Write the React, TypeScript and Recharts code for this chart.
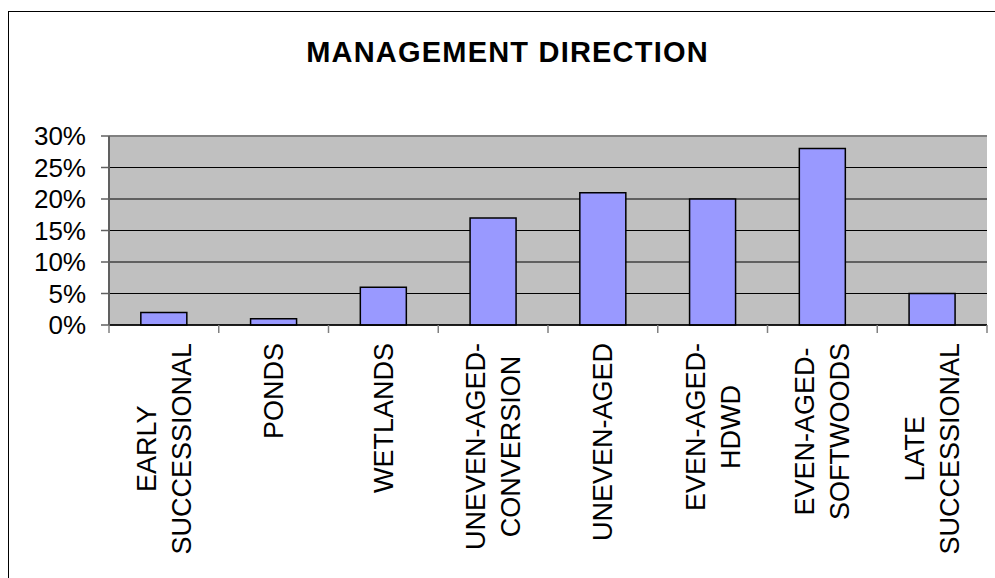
import React from "react";
import {
  BarChart,
  Bar,
  XAxis,
  YAxis,
  CartesianGrid,
  ReferenceLine,
} from "recharts";

const categories = [
  "EARLY\nSUCCESSIONAL",
  "PONDS",
  "WETLANDS",
  "UNEVEN-AGED-\nCONVERSION",
  "UNEVEN-AGED",
  "EVEN-AGED-\nHDWD",
  "EVEN-AGED-\nSOFTWOODS",
  "LATE\nSUCCESSIONAL",
];
const shares = [2, 1, 6, 17, 21, 20, 28, 5];
const yTicks = [0, 5, 10, 15, 20, 25, 30];

const data = categories.map((name, i) => ({ name, share: shares[i] }));

const FONT = "'Liberation Sans', Arial, Helvetica, sans-serif";
const LABEL_SIZE = 27;
const CHART_W = 995;
const PLOT_LEFT = 109;
const PLOT_RIGHT_PAD = 8;
const BAND = (CHART_W - PLOT_LEFT - PLOT_RIGHT_PAD) / categories.length;

let ctx: CanvasRenderingContext2D | null = null;
const textWidth = (s: string) => {
  if (!ctx) ctx = document.createElement("canvas").getContext("2d");
  if (!ctx) return s.length * LABEL_SIZE * 0.65;
  ctx.font = `${LABEL_SIZE}px ${FONT}`;
  return ctx.measureText(s).width;
};

// vertical category label: block sits just under the axis, lines centred within it.
// also draws the little tick marks between categories (Excel style)
const CategoryTick = (props: any) => {
  const { x, y, payload, index } = props;
  const lines = String(payload.value).split("\n");
  const longest = Math.max(...lines.map(textWidth));
  const gap = 18;
  const lineGap = 35;
  const last = index === categories.length - 1;
  return (
    <g>
      <line x1={x - BAND / 2} x2={x - BAND / 2} y1={y} y2={y + 8} stroke="#808080" strokeWidth={1.5} />
      {last && (
        <line x1={x + BAND / 2} x2={x + BAND / 2} y1={y} y2={y + 8} stroke="#808080" strokeWidth={1.5} />
      )}
      <g transform={`translate(${x},${y}) rotate(-90)`}>
        {lines.map((line, i) => (
          <text
            key={i}
            x={-(gap + longest / 2)}
            y={(i - (lines.length - 1) / 2) * lineGap}
            dy="0.35em"
            textAnchor="middle"
            fontSize={LABEL_SIZE}
            fontFamily={FONT}
            fill="#000"
          >
            {line}
          </text>
        ))}
      </g>
    </g>
  );
};

export default function App() {
  return (
    <div
      style={{
        position: "absolute",
        left: 0,
        top: 0,
        width: 995,
        height: 578,
        overflow: "hidden",
        background: "#fff",
      }}
    >
      {/* outer chart frame, runs off the right and bottom edge */}
      <div
        style={{
          position: "absolute",
          left: 8,
          top: 11,
          width: 1200,
          height: 800,
          border: "1.5px solid #000",
        }}
      />
      <div
        style={{
          position: "absolute",
          left: 0,
          top: 34,
          width: 1015,
          textAlign: "center",
          fontFamily: FONT,
          fontWeight: "bold",
          fontSize: 29,
          lineHeight: "36px",
          letterSpacing: 1.2,
        }}
      >
        MANAGEMENT DIRECTION
      </div>
      <div style={{ position: "absolute", left: 0, top: 0 }}>
        <BarChart
          width={CHART_W}
          height={578}
          data={data}
          margin={{ top: 136, right: PLOT_RIGHT_PAD, bottom: 0, left: 0 }}
          barCategoryGap="29%"
        >
          <CartesianGrid
            vertical={false}
            fill="#C0C0C0"
            fillOpacity={1}
            stroke="#000"
            strokeWidth={1}
          />
          <XAxis
            dataKey="name"
            height={253}
            interval={0}
            tickLine={false}
            tickSize={0}
            tickMargin={0}
            axisLine={{ stroke: "#000", strokeWidth: 1.5 }}
            tick={<CategoryTick />}
          />
          <YAxis
            width={PLOT_LEFT}
            domain={[0, 30]}
            ticks={yTicks}
            interval={0}
            tickFormatter={(v) => `${v}%`}
            tickSize={8}
            tickMargin={15}
            tick={{ fontSize: 26, fontFamily: FONT, fill: "#000" }}
            tickLine={{ stroke: "#606060", strokeWidth: 1.5 }}
            axisLine={{ stroke: "#606060", strokeWidth: 2 }}
          />
          <YAxis
            yAxisId="frame"
            orientation="right"
            width={0}
            domain={[0, 30]}
            tick={false}
            tickLine={false}
            axisLine={{ stroke: "#808080", strokeWidth: 2 }}
          />
          <ReferenceLine y={30} stroke="#808080" strokeWidth={2} />
          <Bar
            dataKey="share"
            fill="#9999FF"
            stroke="#000"
            strokeWidth={1.5}
            isAnimationActive={false}
          />
        </BarChart>
      </div>
    </div>
  );
}
